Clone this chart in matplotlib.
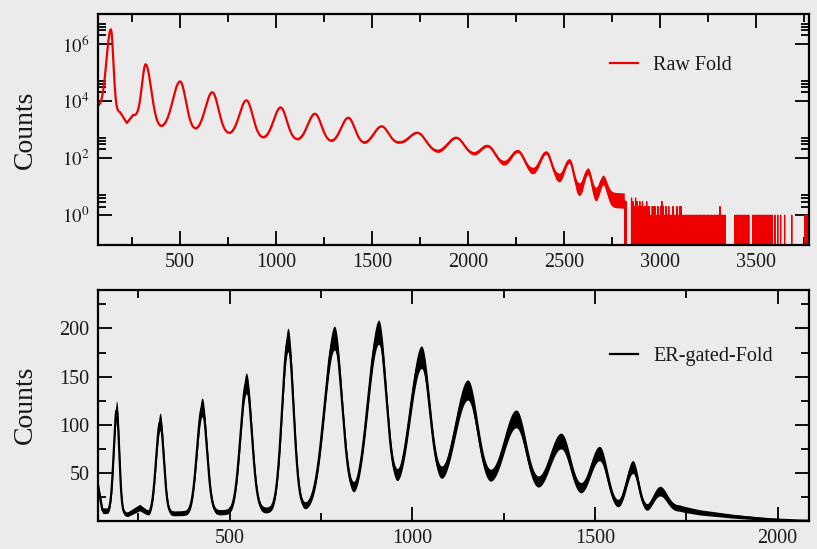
import numpy as np
import matplotlib
matplotlib.use("Agg")
import matplotlib.pyplot as plt
from matplotlib.ticker import FixedLocator, NullFormatter, FixedFormatter

# ---------------- top panel: Raw Fold (log10 counts) ----------------
raw_peak_center = [139, 321, 500, 668, 846, 1024, 1203, 1377, 1550, 1741, 1941, 2106, 2262, 2410, 2531, 2627, 2705]
raw_peak_log_top = [6.50, 5.28, 4.68, 4.30, 4.02, 3.77, 3.55, 3.41, 3.11, 2.88, 2.71, 2.42, 2.24, 2.19, 1.90, 1.55, 1.26]
raw_sigma_left = [23, 20, 38, 36, 36, 36, 37, 37, 40, 45, 45, 40, 36, 32, 26, 22, 20]
raw_sigma_right = [13, 28, 30, 32, 32, 32, 33, 33, 36, 40, 40, 36, 32, 26, 20, 18, 20]
raw_bg_x = [70, 139, 187, 222, 255, 274, 396, 569, 750, 920, 1095, 1281, 1453, 1646, 1845, 2019, 2201, 2340, 2470, 2583, 2670, 2815]
raw_bg_log = [3.80, 3.70, 3.60, 3.23, 3.50, 3.45, 3.04, 2.93, 2.80, 2.66, 2.60, 2.53, 2.46, 2.48, 2.17, 2.05, 1.70, 1.47, 1.24, 0.80, 0.56, 0.50]

# sparse tail (single-count region beyond the continuum)
raw_tail_channel = [2818, 2826,
                    2853, 2860, 2867, 2874, 2882, 2889, 2896, 2903, 2910, 2918,
                    2925, 2932, 2939, 2946, 2954, 2961, 2968, 2975, 2982, 2990,
                    2997, 3004, 3011, 3018, 3026, 3033, 3040, 3047, 3054, 3062,
                    3069, 3076, 3083, 3090, 3098, 3105, 3112, 3119, 3126, 3134,
                    3141, 3148, 3155, 3162, 3170, 3177, 3184, 3191, 3198, 3206,
                    3213, 3220, 3227, 3234, 3242, 3249, 3256, 3263, 3270, 3278,
                    3285, 3292, 3299, 3306, 3314, 3321, 3328, 3335, 3342,
                    3392, 3399, 3406, 3413, 3420, 3428, 3435, 3442, 3449, 3456, 3464,
                    3485, 3492, 3500, 3507, 3514, 3521, 3528, 3536, 3543, 3550,
                    3557, 3564, 3572, 3579, 3586,
                    3600, 3615, 3630, 3651, 3688,
                    3757, 3764, 3771]
raw_tail_count = [3, 3,
                  4, 3, 2, 4, 3, 2, 3, 2, 3, 2,
                  2, 3, 2, 2, 1, 2, 2, 2, 1, 2,
                  1, 2, 3, 2, 1, 2, 1, 2, 1, 1,
                  2, 1, 1, 2, 1, 2, 2, 1, 1, 1,
                  1, 1, 1, 1, 1, 1, 1, 1, 1, 1,
                  1, 1, 1, 1, 1, 1, 1, 1, 1, 1,
                  1, 1, 1, 1, 2, 1, 1, 1, 1,
                  1, 1, 1, 1, 1, 1, 1, 1, 1, 1, 1,
                  1, 1, 1, 1, 1, 1, 1, 1, 1, 1,
                  1, 1, 1, 1, 1,
                  1, 1, 1, 1, 1,
                  1, 1, 1]

raw_x_ticks = [500, 1000, 1500, 2000, 2500, 3000, 3500]
raw_y_ticks = [1e0, 1e2, 1e4, 1e6]
raw_y_labels = ["$10^{0}$", "$10^{2}$", "$10^{4}$", "$10^{6}$"]

# ---------------- bottom panel: ER-gated Fold ----------------
er_peak_center = [191, 310, 425, 546, 660, 787, 908, 1025, 1152, 1285, 1408, 1513, 1604, 1677]
er_peak_top = [115, 103, 118, 143, 188, 190, 196, 170, 136, 106, 83, 70, 56, 31]
er_sigma_left = [8, 11, 14, 16, 16, 27, 29, 31, 35, 35, 33, 27, 18, 20]
er_sigma_right = [7, 10, 13, 15, 15, 21, 21, 23, 27, 27, 26, 21, 16, 20]
er_bg_x = [140, 152, 221, 254, 281, 354, 473, 591, 710, 833, 952, 1084, 1225, 1353, 1467, 1563, 1645, 1732, 1787, 1877, 1970, 2050, 2090]
er_bg = [36, 11, 7, 14, 7, 8, 9, 11, 13, 17, 24, 30, 30, 24, 18, 12, 7, 13, 9, 5, 2, 0.5, 0.3]

er_x_ticks = [500, 1000, 1500, 2000]
er_y_ticks = [50, 100, 150, 200]

# ---------------- build curves from the read parameters ----------------
def bump_sum(ch, centers, sig_l, sig_r, heights):
    out = np.zeros_like(ch, dtype=float)
    for c, sl, sr, h in zip(centers, sig_l, sig_r, heights):
        s = np.where(ch < c, sl, sr)
        out += h * np.exp(-0.5 * ((ch - c) / s) ** 2)
    return out

raw_ch = np.arange(70, 2816).astype(float)
raw_bg_curve = np.interp(raw_ch, raw_bg_x, raw_bg_log)
raw_h = [t - np.interp(c, raw_bg_x, raw_bg_log) for c, t in zip(raw_peak_center, raw_peak_log_top)]
raw_counts = 10 ** (raw_bg_curve + bump_sum(raw_ch, raw_peak_center, raw_sigma_left, raw_sigma_right, raw_h))
raw_lo = np.maximum(raw_counts - 1.6 * np.sqrt(raw_counts), raw_counts * 0.55)
raw_hi = raw_counts + 1.6 * np.sqrt(raw_counts)

tail_ch = np.arange(2812, 3801)
tail_counts = np.zeros(len(tail_ch))
for c, n in zip(raw_tail_channel, raw_tail_count):
    tail_counts[c - 2812] = n

er_ch = np.arange(140, 2087).astype(float)
er_bg_curve = np.interp(er_ch, er_bg_x, er_bg)
er_h = [t - np.interp(c, er_bg_x, er_bg) for c, t in zip(er_peak_center, er_peak_top)]
er_counts = er_bg_curve + bump_sum(er_ch, er_peak_center, er_sigma_left, er_sigma_right, er_h)
er_lo = np.maximum(er_counts - 0.9 * np.sqrt(er_counts), 0)
er_hi = er_counts + 0.9 * np.sqrt(er_counts)

# ---------------- drawing ----------------
plt.rcParams["mathtext.fontset"] = "stix"
SERIF = "Liberation Serif"
BG = "#ebebeb"
TXT = "#1a1a1a"

fig = plt.figure(figsize=(8.17, 5.49), dpi=100, facecolor=BG)
ax1 = fig.add_axes([0.1200, 0.5537, 0.8702, 0.4208], facecolor=BG)
ax2 = fig.add_axes([0.1200, 0.0510, 0.8702, 0.4208], facecolor=BG)

red = "#ee0000"
ax1.fill_between(raw_ch, raw_lo, raw_hi, color=red, lw=0)
ax1.plot(raw_ch, raw_counts, color=red, lw=1.6, label="Raw Fold")
ax1.plot(tail_ch, tail_counts, color=red, lw=0.9)
ax1.set_yscale("log")
ax1.set_xlim(72, 3778)
ax1.set_ylim(0.09, 1.1e7)

ax2.fill_between(er_ch, er_lo, er_hi, color="black", lw=0)
ax2.plot(er_ch, er_counts, color="black", lw=1.6, label="ER-gated-Fold")
ax2.set_xlim(140, 2086)
ax2.set_ylim(0, 240)

for ax in (ax1, ax2):
    for sp in ax.spines.values():
        sp.set_linewidth(1.6)
        sp.set_color("black")
    ax.tick_params(which="both", direction="in", top=True, right=True,
                   width=1.3, colors="black", labelcolor=TXT)
    ax.tick_params(which="major", length=10)
    ax.tick_params(which="minor", length=6)

# top ticks
ax1.xaxis.set_major_locator(FixedLocator(raw_x_ticks))
ax1.xaxis.set_minor_locator(FixedLocator([250, 750, 1250, 1750, 2250, 2750, 3250, 3750]))
ax1.yaxis.set_major_locator(FixedLocator(raw_y_ticks))
ax1.yaxis.set_major_formatter(FixedFormatter(raw_y_labels))
ax1.yaxis.set_minor_locator(FixedLocator([m * 10.0 ** e for e in (0, 2, 4, 6) for m in (2, 3, 4, 5)]))
ax1.yaxis.set_minor_formatter(NullFormatter())
ax1.tick_params(axis="x", which="major", labelsize=14.5, pad=6)
ax1.tick_params(axis="y", which="major", labelsize=13.5, pad=6)

# bottom ticks
ax2.xaxis.set_major_locator(FixedLocator(er_x_ticks))
ax2.xaxis.set_minor_locator(FixedLocator([250, 750, 1250, 1750]))
ax2.yaxis.set_major_locator(FixedLocator(er_y_ticks))
ax2.yaxis.set_minor_locator(FixedLocator([25, 75, 125, 175, 225]))
ax2.tick_params(axis="both", which="major", labelsize=14.5, pad=6)

for ax in (ax1, ax2):
    for lab in ax.get_xticklabels() + ax.get_yticklabels():
        lab.set_fontfamily(SERIF)

fig.text(25 / 817, 0.764, "Counts", rotation=90, ha="center", va="center",
         fontsize=20, family=SERIF, color=TXT)
fig.text(25 / 817, 0.262, "Counts", rotation=90, ha="center", va="center",
         fontsize=20, family=SERIF, color=TXT)

leg_kw = dict(frameon=False, handlelength=1.4, handletextpad=0.75, borderpad=0,
              borderaxespad=0, loc="center left", prop={"family": SERIF, "size": 14.5})
l1 = ax1.legend(bbox_to_anchor=(0.7201, 0.779), **leg_kw)
l2 = ax2.legend(bbox_to_anchor=(0.7201, 0.714), **leg_kw)
for t in l1.get_texts() + l2.get_texts():
    t.set_color(TXT)

fig.savefig("out.png", dpi=100, facecolor=BG)
